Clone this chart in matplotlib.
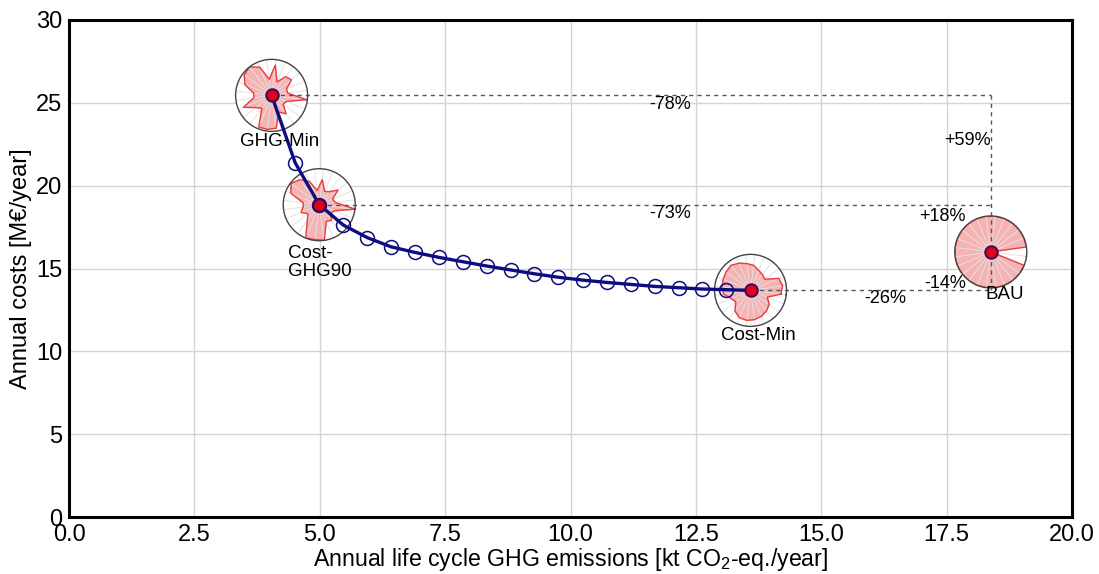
import numpy as np
import matplotlib
matplotlib.use("Agg")
import matplotlib.pyplot as plt

plt.rcParams['font.family'] = ['Liberation Sans', 'DejaVu Sans']
plt.rcParams['mathtext.default'] = 'regular'

# ---- data ----
pareto_x = [4.04, 4.51, 4.99, 5.47, 5.95, 6.42, 6.90, 7.38, 7.85, 8.33, 8.81,
            9.28, 9.76, 10.24, 10.72, 11.20, 11.68, 12.16, 12.63, 13.11, 13.59]
pareto_y = [25.45, 21.38, 18.85, 17.62, 16.86, 16.31, 15.97, 15.67, 15.41, 15.15, 14.91,
            14.68, 14.47, 14.30, 14.16, 14.04, 13.92, 13.84, 13.76, 13.72, 13.68]

scen_names = ['GHG-Min', 'Cost-\nGHG90', 'Cost-Min', 'BAU']
scen_x = [4.04, 4.99, 13.59, 18.38]
scen_y = [25.45, 18.85, 13.68, 16.0]

# radar values (24 axes, counter-clockwise from east), 1 = BAU level
radar_ghgmin = [0.97, 0.45, 0.45, 0.70, 0.65, 0.40, 0.85, 0.45, 0.85, 1.00, 0.95, 0.80,
                0.50, 0.50, 0.85, 0.55, 0.45, 0.95, 0.95, 0.92, 0.50, 0.65, 0.40, 0.45]
radar_ghg90 = [1.00, 0.45, 0.40, 0.66, 0.45, 0.40, 0.70, 0.40, 0.70, 0.88, 0.98, 0.85,
               0.45, 0.45, 0.55, 0.40, 0.55, 1.00, 0.97, 1.00, 0.50, 0.55, 0.40, 0.45]
radar_costmin = [0.85, 0.90, 0.85, 0.50, 0.55, 0.60, 0.70, 0.75, 0.82, 0.88, 0.85, 0.82,
                 0.80, 0.75, 0.58, 0.52, 0.72, 0.82, 0.84, 0.82, 0.78, 0.72, 0.65, 0.50]
radar_bau = [0.0] + [1.0] * 23
radars = [radar_ghgmin, radar_ghg90, radar_costmin, radar_bau]

pct_labels = ['-78%', '-73%', '-26%', '+59%', '+18%', '-14%']
pct_pos = [(11.98, 24.92), (11.98, 18.34), (16.27, 13.21),
           (17.91, 22.75), (17.41, 18.16), (17.47, 14.12)]

xticks = [0, 2.5, 5, 7.5, 10, 12.5, 15, 17.5, 20]
yticks = [0, 5, 10, 15, 20, 25, 30]

# ---- figure ----
W, H = 1099, 574
fig = plt.figure(figsize=(W / 100, H / 100), dpi=100)
left, right, bottom, top = 69 / W, 1072 / W, 1 - 517 / H, 1 - 20 / H
ax = fig.add_axes([left, bottom, right - left, top - bottom])
ax.set_xlim(0, 20)
ax.set_ylim(0, 30)
ax.set_xticks(xticks)
ax.set_xticklabels([f'{v:.1f}' for v in xticks])
ax.set_yticks(yticks)
ax.set_yticklabels([str(v) for v in yticks])
ax.tick_params(length=0, labelsize=17, pad=5)
ax.grid(True, color='#d4d4d4', lw=1)
ax.set_axisbelow(True)
for s in ax.spines.values():
    s.set_linewidth(2.2)
    s.set_color('black')
ax.set_xlabel(r'Annual life cycle GHG emissions [kt CO$_2$-eq./year]', fontsize=16.7, labelpad=0)
ax.set_ylabel('Annual costs [M€/year]', fontsize=17, labelpad=3)

navy = '#0d0d80'
dash_kw = dict(color='#555555', lw=1, ls=(0, (3, 3)), zorder=3)

# dashed comparison lines
xb, yb = scen_x[3], scen_y[3]
for i in range(3):
    ax.plot([scen_x[i], xb], [scen_y[i], scen_y[i]], **dash_kw)
ax.plot([xb, xb], [scen_y[0], scen_y[2]], **dash_kw)

# pareto curve
ax.plot(pareto_x, pareto_y, '-', color=navy, lw=2.4, zorder=4)
ax.plot(pareto_x[1:-1], pareto_y[1:-1], 'o', ms=10, mfc='none', mec=navy, mew=1.1, zorder=4)

# radar glyphs
pxx = (right - left) * W / 20.0
pxy = (top - bottom) * H / 30.0
R = 36
theta = np.deg2rad(np.arange(24) * 15)
for xs, ys, vals in zip(scen_x, scen_y, radars):
    rx, ry = R / pxx, R / pxy
    pax = ax.inset_axes([xs - rx, ys - ry, 2 * rx, 2 * ry], transform=ax.transData,
                        projection='polar', zorder=2)
    pax.set_facecolor('white')
    pax.set_theta_offset(np.deg2rad(-7))
    v = np.array(vals + vals[:1])
    t = np.append(theta, theta[0])
    pax.fill(t, v, color='#f7b3b3', zorder=1)
    pax.plot(t, v, color='#e8403f', lw=1, zorder=2)
    pax.set_ylim(0, 1)
    pax.set_xticks(theta)
    pax.set_xticklabels([])
    pax.set_yticks([])
    pax.xaxis.grid(True, color='#e2e2e2', lw=0.7)
    pax.spines['polar'].set_color('#444444')
    pax.spines['polar'].set_linewidth(1)

# scenario dots
ax.plot(scen_x, scen_y, 'o', ms=9, mfc='#e3001b', mec='#3a0a5a', mew=1.4, zorder=6, ls='none')

# scenario labels
label_off = [(8, -46, 'center', 'center'), (-31, -40, 'left', 'top'),
             (8, -45, 'center', 'center'), (-5, -43, 'left', 'center')]
for name, xs, ys, (dx, dy, ha, va) in zip(scen_names, scen_x, scen_y, label_off):
    ax.annotate(name, (xs, ys), xytext=(dx * 0.72, dy * 0.72), textcoords='offset points',
                ha=ha, va=va, fontsize=13.5, zorder=7, linespacing=1.08)

for lab, (px, py) in zip(pct_labels, pct_pos):
    ax.text(px, py, lab, ha='center', va='center', fontsize=13, zorder=7)

fig.savefig('out.png', dpi=100)
